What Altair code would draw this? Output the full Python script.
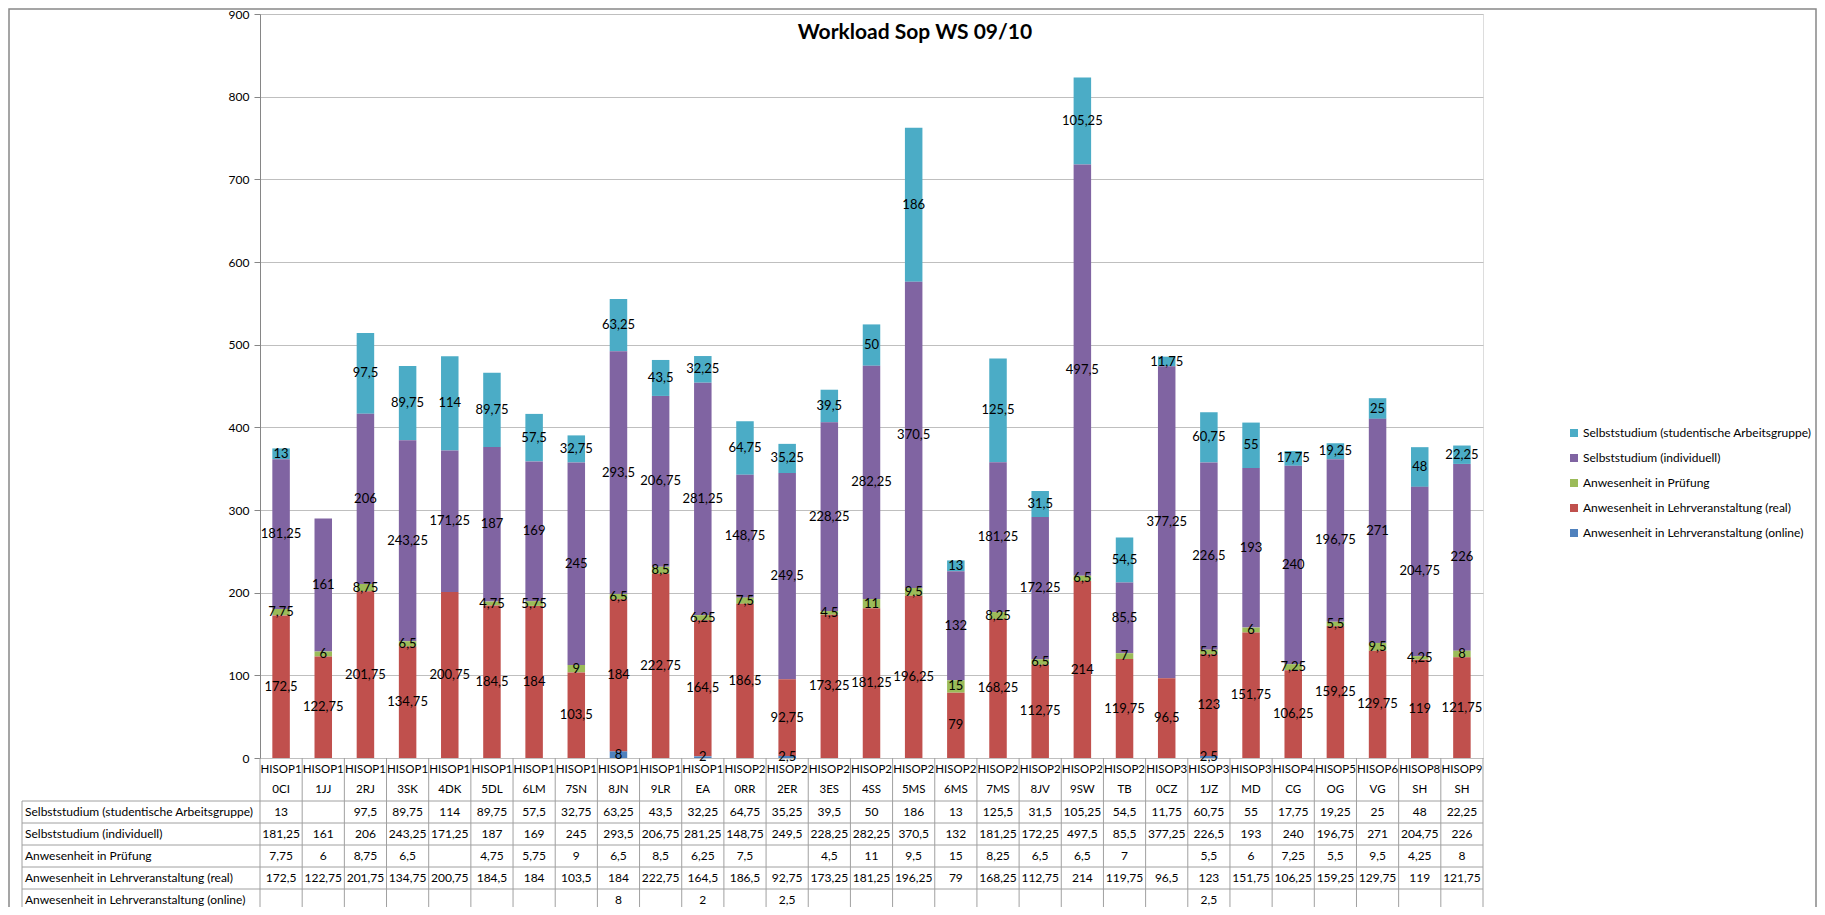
import altair as alt
import pandas as pd

categories = ["HISOP10CI", "HISOP11JJ", "HISOP12RJ", "HISOP13SK", "HISOP14DK", "HISOP15DL",
              "HISOP16LM", "HISOP17SN", "HISOP18JN", "HISOP19LR", "HISOP1EA", "HISOP20RR",
              "HISOP22ER", "HISOP23ES", "HISOP24SS", "HISOP25MS", "HISOP26MS", "HISOP27MS",
              "HISOP28JV", "HISOP29SW", "HISOP2TB", "HISOP30CZ", "HISOP31JZ", "HISOP3MD",
              "HISOP4CG", "HISOP5OG", "HISOP6VG", "HISOP8SH", "HISOP9SH"]

series_names = ["Selbststudium (studentische Arbeitsgruppe)",
                "Selbststudium (individuell)",
                "Anwesenheit in Prüfung",
                "Anwesenheit in Lehrveranstaltung (real)",
                "Anwesenheit in Lehrveranstaltung (online)"]

studentisch = [13, None, 97.5, 89.75, 114, 89.75, 57.5, 32.75, 63.25, 43.5, 32.25, 64.75, 35.25,
               39.5, 50, 186, 13, 125.5, 31.5, 105.25, 54.5, 11.75, 60.75, 55, 17.75, 19.25, 25,
               48, 22.25]
individuell = [181.25, 161, 206, 243.25, 171.25, 187, 169, 245, 293.5, 206.75, 281.25, 148.75,
               249.5, 228.25, 282.25, 370.5, 132, 181.25, 172.25, 497.5, 85.5, 377.25, 226.5,
               193, 240, 196.75, 271, 204.75, 226]
pruefung = [7.75, 6, 8.75, 6.5, None, 4.75, 5.75, 9, 6.5, 8.5, 6.25, 7.5, None, 4.5, 11, 9.5,
            15, 8.25, 6.5, 6.5, 7, None, 5.5, 6, 7.25, 5.5, 9.5, 4.25, 8]
real = [172.5, 122.75, 201.75, 134.75, 200.75, 184.5, 184, 103.5, 184, 222.75, 164.5, 186.5,
        92.75, 173.25, 181.25, 196.25, 79, 168.25, 112.75, 214, 119.75, 96.5, 123, 151.75,
        106.25, 159.25, 129.75, 119, 121.75]
online = [None, None, None, None, None, None, None, None, 8, None, 2, None, 2.5, None, None,
          None, None, None, None, None, None, None, 2.5, None, None, None, None, None, None]

colors = ["#4BACC6", "#8064A2", "#9BBB59", "#C0504D", "#4F81BD"]
title_text = "Workload Sop WS 09/10"
y_ticks = [0, 100, 200, 300, 400, 500, 600, 700, 800, 900]

FONT = "Lato"
W, H = 1223, 744
LINE = "#A0A0A0"


def fmt(v):
    if v is None:
        return ""
    return f"{v:g}".replace(".", ",")


values_by_series = [studentisch, individuell, pruefung, real, online]
rows = []
for si, (name, vals) in enumerate(zip(series_names, values_by_series)):
    for c, v in zip(categories, vals):
        rows.append({"cat": c, "series": name, "value": v, "label": fmt(v),
                     "ord": len(series_names) - 1 - si})
table_df = pd.DataFrame(rows)
long_df = table_df[table_df["value"].notna()].copy()

cat_df = pd.DataFrame({"cat": categories,
                       "line1": [c[:6] for c in categories],
                       "line2": [c[6:] for c in categories]})
row_df = pd.DataFrame({"series": series_names})
title_df = pd.DataFrame({"t": [title_text]})
frame_df = pd.DataFrame({"k": [0]})

xscale = alt.Scale(domain=categories, paddingInner=0, paddingOuter=0)
yscale = alt.Scale(domain=[0, 900], nice=False, zero=True)
rowscale = alt.Scale(domain=series_names, range=[787, 897], paddingInner=0, paddingOuter=0)
X = alt.X("cat:N", scale=xscale, axis=None, sort=categories)

yaxis = alt.Axis(values=y_ticks, title=None, grid=True,
                 gridColor="#BFBFBF", gridWidth=1, domainColor="#868686",
                 tickColor="#868686", tickSize=6, labelPadding=5,
                 labelFont=FONT, labelFontSize=12, labelColor="black")

bars = alt.Chart(long_df).mark_bar(width=alt.RelativeBandSize(0.415)).encode(
    x=X,
    y=alt.Y("value:Q", stack="zero", scale=yscale, axis=yaxis, title=None),
    color=alt.Color("series:N", scale=alt.Scale(domain=series_names, range=colors),
                    legend=alt.Legend(orient="none", legendX=1308, legendY=413, title=None,
                                      symbolType="square", symbolSize=64,
                                      symbolStrokeWidth=0, labelFont=FONT, labelFontSize=12,
                                      labelColor="black", labelLimit=400, rowPadding=13,
                                      labelOffset=3, padding=0)),
    order=alt.Order("ord:Q", sort="ascending"),
)

bar_labels = alt.Chart(long_df).transform_stack(
    stack="value", as_=["y0", "y1"], groupby=["cat"],
    sort=[alt.SortField("ord", order="ascending")]
).transform_calculate(mid="(datum.y0 + datum.y1) / 2").mark_text(
    font=FONT, fontSize=13, color="black"
).encode(
    x=X,
    y=alt.Y("mid:Q", scale=yscale, axis=yaxis, title=None),
    text="label:N",
)

main = alt.layer(bars, bar_labels)

table_text = alt.Chart(table_df).mark_text(font=FONT, fontSize=12, color="black").encode(
    x=X,
    y=alt.Y("series:N", scale=rowscale, axis=None),
    text="label:N",
)
row_headers = alt.Chart(row_df).mark_text(font=FONT, fontSize=12, color="black",
                                          align="left").encode(
    x=alt.value(-235),
    y=alt.Y("series:N", scale=rowscale, axis=None),
    text="series:N",
)
row_lines = alt.Chart(row_df).mark_rule(color=LINE, strokeWidth=1).encode(
    x=alt.value(-238), x2=alt.value(W),
    y=alt.Y("series:N", scale=rowscale, axis=None, bandPosition=0),
)
col_lines = alt.Chart(cat_df).mark_rule(color=LINE, strokeWidth=1).encode(
    x=alt.X("cat:N", scale=xscale, axis=None, sort=categories, bandPosition=0),
    y=alt.value(H), y2=alt.value(H + 200),
)
edge_lines = alt.Chart(frame_df).mark_rule(color=LINE, strokeWidth=1).encode(
    x=alt.value(W), y=alt.value(H), y2=alt.value(H + 200),
)
left_line = alt.Chart(frame_df).mark_rule(color=LINE, strokeWidth=1).encode(
    x=alt.value(-238), y=alt.value(787), y2=alt.value(H + 200),
)
cat_line1 = alt.Chart(cat_df).mark_text(font=FONT, fontSize=11.5, color="black",
                                        baseline="middle").encode(
    x=X, y=alt.value(H + 12), text="line1:N",
)
cat_line2 = alt.Chart(cat_df).mark_text(font=FONT, fontSize=11.5, color="black",
                                        baseline="middle").encode(
    x=X, y=alt.value(H + 32), text="line2:N",
)
table = alt.layer(row_lines, col_lines, edge_lines, left_line, table_text, row_headers,
                  cat_line1, cat_line2)

title = alt.Chart(title_df).mark_text(font=FONT, fontSize=21, fontWeight="bold",
                                      color="black").encode(
    x=alt.value(655), y=alt.value(19), text="t:N",
)
frame = alt.Chart(frame_df).mark_rect(fillOpacity=0, stroke="#888888",
                                      strokeWidth=1.5).encode(
    x=alt.value(-251), x2=alt.value(1556), y=alt.value(-5), y2=alt.value(960),
)

chart = alt.layer(frame, main, table, title).resolve_scale(y="independent").properties(
    width=W, height=H,
    autosize=alt.AutoSizeParams(type="none"),
    padding={"left": 252, "top": 6, "right": 334, "bottom": 149},
).configure_view(stroke=None).configure(background="white")

chart.save("out.html", embed_options={"renderer": "svg", "actions": False})
